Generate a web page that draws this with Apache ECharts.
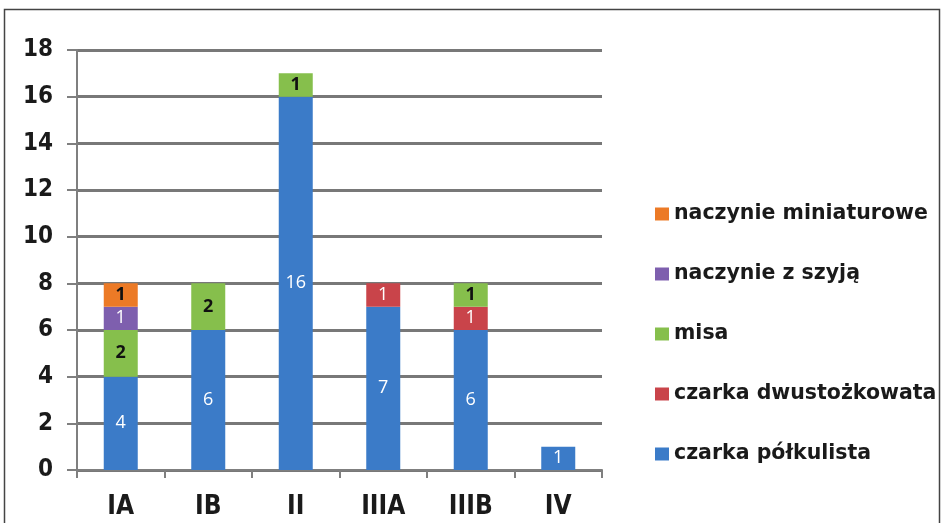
<!DOCTYPE html>
<html><head><meta charset="utf-8">
<script src="https://cdn.jsdelivr.net/npm/echarts@6/dist/echarts.min.js"></script>
<style>html,body{margin:0;padding:0;background:#fff}#c{width:943px;height:523px}</style>
</head><body><div id="c"></div>
<script>
const categories = ['IA','IB','II','IIIA','IIIB','IV'];
const czarkaPolkulista = [4,6,16,7,6,1];
const czarkaDwustozkowata = [null,null,null,1,1,null];
const misa = [2,2,1,null,1,null];
const naczynieZSzyja = [1,null,null,null,null,null];
const naczynieMiniaturowe = [1,null,null,null,null,null];
const yTicks = [0,2,4,6,8,10,12,14,16,18];

const FONT = '"DejaVu Sans", sans-serif';
const CFONT = '"DejaVu Sans Condensed", "DejaVu Sans", sans-serif';
const LFONT = '"Open Sans", sans-serif';
function ser(name, data, color, labelColor, bold){
  return {name, type:'bar', stack:'t', data, barWidth:34,
    itemStyle:{color},
    label:{show:true, position:'inside', color:labelColor, fontSize:18, fontFamily:LFONT, fontWeight: bold?'bold':'normal'}};
}
const chart = echarts.init(document.getElementById('c'));
chart.setOption({
  animation:false,
  backgroundColor:'#fff',
  graphic:[{type:'rect', shape:{x:4.5,y:9.5,width:935,height:520}, style:{fill:'none', stroke:'#444', lineWidth:1.5}, silent:true}],
  grid:{left:77, right:341, top:50, bottom:53},
  legend:{orient:'vertical', left:650, top:198, itemWidth:14, itemHeight:13, itemGap:38,
    icon:'rect',
    textStyle:{fontSize:20.5, fontWeight:'bold', fontFamily:FONT, color:'#1a1a1a', lineHeight:22},
    data:['naczynie miniaturowe','naczynie z szyją','misa','czarka dwustożkowata','czarka półkulista']},
  xAxis:{type:'category', data:categories,
    axisLine:{lineStyle:{color:'#7f7f7f', width:2}},
    axisTick:{show:true, length:8, lineStyle:{color:'#7f7f7f', width:2}},
    axisLabel:{fontSize:26, fontWeight:'bold', fontFamily:CFONT, color:'#1a1a1a', margin:24}},
  yAxis:{type:'value', min:yTicks[0], max:yTicks[yTicks.length-1], interval:2,
    axisLine:{show:true, lineStyle:{color:'#7f7f7f', width:2}},
    axisTick:{show:true, length:10, lineStyle:{color:'#7f7f7f', width:2}},
    splitLine:{lineStyle:{color:'#787878', width:3}},
    axisLabel:{fontSize:24, fontWeight:'bold', fontFamily:CFONT, color:'#1a1a1a', margin:24}},
  series:[
    ser('czarka półkulista', czarkaPolkulista, '#3b7bc8', '#fff', false),
    ser('czarka dwustożkowata', czarkaDwustozkowata, '#c9444a', '#fff', false),
    ser('misa', misa, '#86bf4c', '#111', true),
    ser('naczynie z szyją', naczynieZSzyja, '#7e5fae', '#fff', false),
    ser('naczynie miniaturowe', naczynieMiniaturowe, '#ec7a26', '#111', true)
  ]
});
</script></body></html>
